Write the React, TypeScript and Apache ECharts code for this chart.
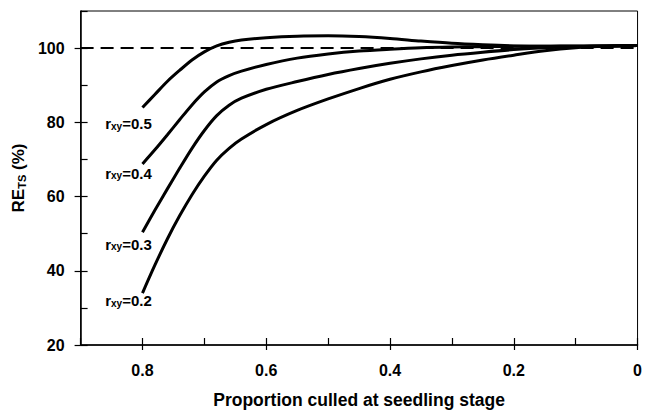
import React, { useEffect, useRef } from "react";
import * as echarts from "echarts";

const proportion = [0.8, 0.78, 0.76, 0.74, 0.72, 0.7, 0.68, 0.66, 0.64, 0.6, 0.55, 0.5, 0.45, 0.4, 0.35, 0.3, 0.25, 0.2, 0.15, 0.1, 0.05, 0];
const re05 = [84, 87.5, 91, 94, 96.8, 99, 100.6, 101.6, 102.2, 102.8, 103.2, 103.3, 103.1, 102.6, 101.9, 101.3, 100.9, 100.6, 100.5, 100.5, 100.6, 100.7];
const re04 = [68.8, 72.6, 76.6, 80.7, 84.7, 88.2, 90.9, 92.6, 93.8, 95.6, 97.3, 98.4, 99.2, 99.7, 100.1, 100.3, 100.4, 100.5, 100.5, 100.6, 100.6, 100.7];
const re03 = [50.4, 56.3, 62, 67.6, 73, 77.8, 81.8, 84.6, 86.5, 88.9, 91, 92.9, 94.5, 95.9, 97.1, 98.1, 98.9, 99.6, 100.1, 100.4, 100.6, 100.7];
const re02 = [34, 41.5, 48.5, 54.8, 60.5, 65.5, 69.8, 73, 75.5, 79.4, 83.2, 86.3, 89.1, 91.6, 93.6, 95.3, 96.8, 98.1, 99.3, 100.1, 100.5, 100.7];

const curveNames = ["0.5", "0.4", "0.3", "0.2"];
const curveValues = [re05, re04, re03, re02];
const labelY = [80, 66.7, 47.5, 32.3];
const refLine = [[0.9, 100], [0, 100]];

const xTickLabels = ["0", "0.2", "0.4", "0.6", "0.8"];
const yTickLabels = ["20", "40", "60", "80", "100"];

const FONT = "Liberation Sans, Arial, sans-serif";

export default function App() {
  const ref = useRef<HTMLDivElement>(null);
  useEffect(() => {
    if (!ref.current) return;
    const chart = echarts.init(ref.current, undefined, { renderer: "svg" });
    const lineSeries = curveValues.map((vals, i) => ({
      type: "line",
      name: "rxy=" + curveNames[i],
      data: proportion.map((x, j) => [x, vals[j]]),
      showSymbol: false,
      smooth: 0.3,
      lineStyle: { color: "#000", width: 3 },
      z: 3,
    }));
    const labelSeries = {
      type: "scatter",
      symbolSize: 0,
      silent: true,
      itemStyle: { opacity: 1, color: "#000" },
      data: labelY.map((y, i) => ({
        value: [0.8, y],
        label: {
          show: true,
          position: "inside",
          offset: [-14, 0],
          opacity: 1,
          formatter: "{r|r}{s|xy}{r|=" + curveNames[i] + "}",
          rich: {
            r: { fontFamily: FONT, fontWeight: "bold", fontSize: 15, color: "#000", lineHeight: 18, verticalAlign: "bottom" },
            s: { fontFamily: FONT, fontWeight: "bold", fontSize: 10, color: "#000", lineHeight: 18, verticalAlign: "bottom", padding: [6, 0, 0, 0] },
          },
        },
      })),
      z: 5,
    };
    chart.setOption({
      animation: false,
      backgroundColor: "#fff",
      grid: { left: 79, right: 4, top: 11, bottom: 67, show: true, borderColor: "#000", borderWidth: 1, containLabel: false },
      xAxis: [
        {
          type: "value",
          min: 0,
          max: 0.9,
          interval: 0.2,
          inverse: true,
          position: "bottom",
          name: "Proportion culled at seedling stage",
          nameLocation: "middle",
          nameGap: 46,
          nameTextStyle: { fontFamily: FONT, fontWeight: "bold", fontSize: 17.5, color: "#000" },
          axisLine: { show: true, onZero: false, lineStyle: { color: "#000", width: 1.5 } },
          axisTick: { show: true, inside: false, length: 5, lineStyle: { color: "#000", width: 1.2 } },
          axisLabel: {
            showMaxLabel: false,
            margin: 17,
            fontFamily: FONT,
            fontWeight: "bold",
            fontSize: 16,
            color: "#000",
            formatter: (v: number) => {
              const idx = Math.round(v / 0.2);
              return xTickLabels[idx] ?? "";
            },
          },
          splitLine: { show: false },
        },
        {
          type: "value",
          min: 0,
          max: 0.9,
          interval: 0.1,
          inverse: true,
          position: "bottom",
          axisLine: { show: false, onZero: false },
          axisTick: { show: true, inside: true, length: 7, lineStyle: { color: "#000", width: 1.2 } },
          axisLabel: { show: false },
          splitLine: { show: false },
        },
      ],
      yAxis: [
        {
          type: "value",
          min: 20,
          max: 110,
          interval: 20,
          position: "left",
          name: "{a|RE}{b|TS}{a| (%)}",
          nameLocation: "middle",
          nameGap: 40,
          nameRotate: 90,
          nameTextStyle: {
            rich: {
              a: { fontFamily: FONT, fontWeight: "bold", fontSize: 17, color: "#000", lineHeight: 22, verticalAlign: "bottom" },
              b: { fontFamily: FONT, fontWeight: "bold", fontSize: 11, color: "#000", lineHeight: 22, verticalAlign: "bottom", padding: [8, 0, 0, 0] },
            },
          },
          axisLine: { show: true, onZero: false, lineStyle: { color: "#000", width: 1.5 } },
          axisTick: { show: true, inside: false, length: 6, lineStyle: { color: "#000", width: 1.2 } },
          axisLabel: {
            showMaxLabel: false,
            margin: 16,
            fontFamily: FONT,
            fontWeight: "bold",
            fontSize: 16,
            color: "#000",
            formatter: (v: number) => {
              const idx = Math.round((v - 20) / 20);
              return yTickLabels[idx] ?? "";
            },
          },
          splitLine: { show: false },
        },
        {
          type: "value",
          min: 20,
          max: 110,
          interval: 10,
          position: "left",
          axisLine: { show: false, onZero: false },
          axisTick: { show: true, inside: true, length: 7, lineStyle: { color: "#000", width: 1.2 } },
          axisLabel: { show: false },
          splitLine: { show: false },
        },
      ],
      series: [
        {
          type: "line",
          data: refLine,
          showSymbol: false,
          silent: true,
          lineStyle: { color: "#000", width: 2, type: [13, 7] },
          z: 2,
        },
        ...lineSeries,
        labelSeries,
      ],
    });
    return () => chart.dispose();
  }, []);
  return (
    <div
      ref={ref}
      style={{ position: "absolute", left: 0, top: 0, width: 645, height: 414, background: "#fff" }}
    />
  );
}
